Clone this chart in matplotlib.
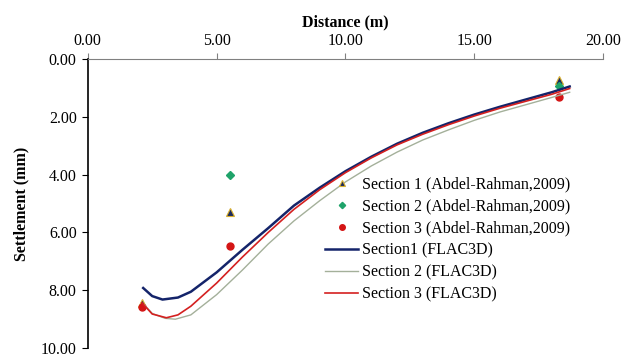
import matplotlib.pyplot as plt
import matplotlib.ticker as mticker

plt.rcParams['font.family'] = ['Liberation Serif', 'DejaVu Serif']
plt.rcParams['font.size'] = 11.5

# Measured points (Abdel-Rahman, 2009)
s1_x = [2.1, 5.5, 18.3]
s1_y = [8.45, 5.3, 0.72]
s2_x = [5.5, 18.3]
s2_y = [4.0, 0.92]
s3_x = [2.1, 5.5, 18.3]
s3_y = [8.57, 6.48, 1.30]

# FLAC3D results
f1_x = [2.15, 2.5, 2.9, 3.5, 4.0, 5.0, 6.0, 7.0, 8.0, 9.0, 10.0, 11.0, 12.0, 13.0, 14.0, 15.0, 16.0, 17.0, 18.0, 18.7]
f1_y = [7.92, 8.2, 8.32, 8.25, 8.05, 7.38, 6.6, 5.85, 5.07, 4.45, 3.88, 3.38, 2.93, 2.55, 2.22, 1.92, 1.65, 1.4, 1.15, 0.95]
f2_x = [2.2, 2.5, 3.0, 3.4, 4.0, 5.0, 6.0, 7.0, 8.0, 9.0, 10.0, 11.0, 12.0, 13.0, 14.0, 15.0, 16.0, 17.0, 18.0, 18.7]
f2_y = [8.5, 8.8, 8.97, 9.0, 8.85, 8.15, 7.3, 6.4, 5.6, 4.9, 4.25, 3.7, 3.22, 2.8, 2.45, 2.12, 1.83, 1.58, 1.33, 1.15]
f3_x = [2.1, 2.5, 3.05, 3.5, 4.0, 5.0, 6.0, 7.0, 8.0, 9.0, 10.0, 11.0, 12.0, 13.0, 14.0, 15.0, 16.0, 17.0, 18.0, 18.7]
f3_y = [8.43, 8.82, 8.95, 8.85, 8.55, 7.75, 6.85, 6.0, 5.2, 4.52, 3.93, 3.42, 2.97, 2.6, 2.27, 1.97, 1.7, 1.46, 1.22, 1.02]

fig = plt.figure(figsize=(6.27, 3.6), dpi=100)
ax = fig.add_axes([0.140, 0.033, 0.822, 0.803])

ax.plot(s1_x, s1_y, '^', color='#1B2A5E', mec='#D9B030', mew=0.8, ms=5.5,
        ls='none', label='Section 1 (Abdel-Rahman,2009)')
ax.plot(s2_x, s2_y, 'D', color='#1FA36A', mec='#1FA36A', ms=4,
        ls='none', label='Section 2 (Abdel-Rahman,2009)')
ax.plot(s3_x, s3_y, 'o', color='#D41515', mec='#D41515', ms=5,
        ls='none', label='Section 3 (Abdel-Rahman,2009)')
ax.plot(f1_x, f1_y, color='#14246A', lw=1.8, label='Section1 (FLAC3D)')
ax.plot(f2_x, f2_y, color='#A4B09A', lw=1.0, label='Section 2 (FLAC3D)')
ax.plot(f3_x, f3_y, color='#D42020', lw=1.2, label='Section 3 (FLAC3D)')

ax.set_xlim(0, 20)
ax.set_ylim(10, 0)
ax.set_xticks([0, 5, 10, 15, 20])
ax.set_yticks([0, 2, 4, 6, 8, 10])
ax.xaxis.set_major_formatter(mticker.FormatStrFormatter('%.2f'))
ax.yaxis.set_major_formatter(mticker.FormatStrFormatter('%.2f'))
ax.xaxis.tick_top()
ax.xaxis.set_label_position('top')
ax.tick_params(axis='x', direction='out', length=4, color='#808080', pad=3)
ax.tick_params(axis='y', direction='out', length=4, color='black', pad=4)
ax.set_xlabel('Distance (m)', fontweight='bold', labelpad=5)
ax.set_ylabel('Settlement (mm)', fontweight='bold', labelpad=8)

ax.spines['bottom'].set_visible(False)
ax.spines['right'].set_visible(False)
ax.spines['top'].set_color('#808080')
ax.spines['left'].set_color('black')
ax.spines['left'].set_linewidth(1.2)

ax.legend(loc='upper left', bbox_to_anchor=(0.46, 0.595), frameon=False,
          handlelength=2.1, handletextpad=0.2, labelspacing=0.38,
          borderaxespad=0, borderpad=0, markerscale=0.8)

fig.savefig('out.png', dpi=100)
